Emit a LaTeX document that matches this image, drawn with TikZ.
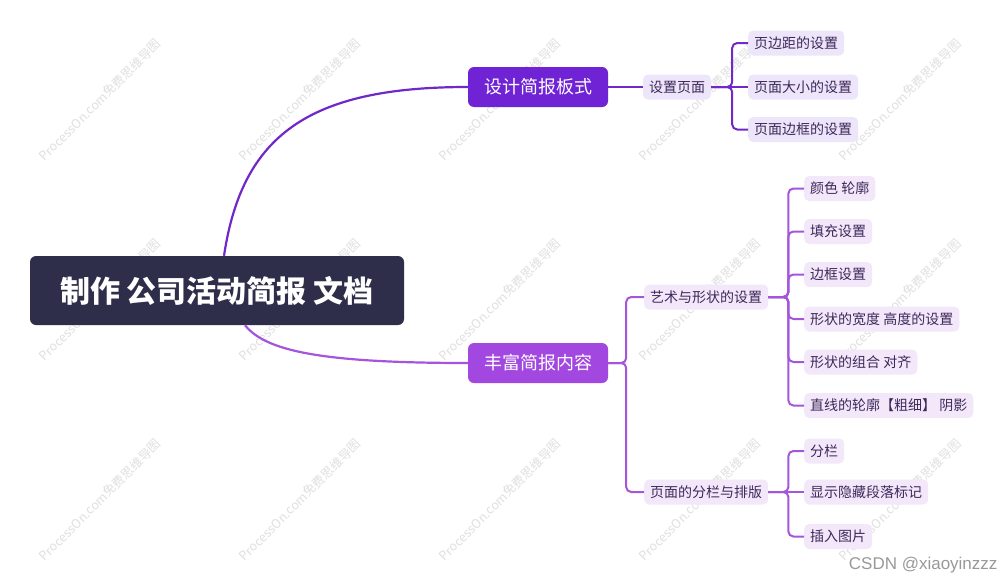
\documentclass[tikz,border=0pt]{standalone}
\usepackage{fontspec}
\setmainfont{Noto Sans CJK SC}
\newfontfamily\csdnfont{Liberation Sans}
\usetikzlibrary{positioning, calc}
\definecolor{rootdark}{RGB}{46, 45, 74}
\definecolor{designpurple}{RGB}{111, 35, 212}
\definecolor{enrichpurple}{RGB}{162, 72, 224}
\definecolor{linetop}{RGB}{112, 40, 200}
\definecolor{linebottom}{RGB}{165, 85, 220}
\definecolor{leaftop}{RGB}{237, 230, 250}
\definecolor{leafbottom}{RGB}{243, 232, 250}
\definecolor{leaftext}{RGB}{62, 40, 90}
\tikzstyle{rootbox} = [rectangle, rounded corners=6pt, fill=rootdark, text=white,
                       minimum width=374pt, minimum height=69pt, font=\fontsize{30}{34}\selectfont\bfseries]
\tikzstyle{mainbox} = [rectangle, rounded corners=6pt, text=white,
                       minimum width=140pt, minimum height=40pt, font=\fontsize{18}{20}\selectfont]
\tikzstyle{subbox} = [rectangle, rounded corners=5pt, text=leaftext, minimum height=25pt,
                      inner xsep=6pt, font=\fontsize{14}{16}\selectfont]
\tikzstyle{topline} = [line width=2pt, linetop, rounded corners=5pt]
\tikzstyle{bottomline} = [line width=2pt, linebottom, rounded corners=5pt]
\tikzstyle{watermark} = [rotate=45, text=black!12, font=\fontsize{12.5}{14}\selectfont]

\begin{document}
\begin{tikzpicture}[x=1pt, y=-1pt]

\fill[white] (0,0) rectangle (1004,581);
\useasboundingbox (0,0) rectangle (1004,581);

% Watermarks
\foreach \wx in {100,300,500,700,900}
  \foreach \wy in {100,300,500}
    \node[watermark] (wm-\wx-\wy) at (\wx,\wy) {ProcessOn.com免费思维导图};

% Root
\node[rootbox] (root) at (217, 290.5) {制作 公司活动简报 文档};

% Main topics
\node[mainbox, fill=designpurple] (design) at (538, 87) {设计简报板式};
\node[mainbox, fill=enrichpurple] (enrich) at (538, 363) {丰富简报内容};

% Design branch
\node[subbox, fill=leaftop] (pagesetup) at (677, 87) {设置页面};
\node[subbox, fill=leaftop, anchor=west] (margin) at (748, 43) {页边距的设置};
\node[subbox, fill=leaftop, anchor=west] (pagesize) at (748, 87) {页面大小的设置};
\node[subbox, fill=leaftop, anchor=west] (pageborder) at (748, 129.5) {页面边框的设置};

% Enrich branch
\node[subbox, fill=leafbottom, anchor=west] (artshape) at (644, 297) {艺术与形状的设置};
\node[subbox, fill=leafbottom, anchor=west] (columns) at (644, 492) {页面的分栏与排版};

\node[subbox, fill=leafbottom, anchor=west] (colorline) at (804, 188.5) {颜色 轮廓};
\node[subbox, fill=leafbottom, anchor=west] (fillset) at (804, 231.5) {填充设置};
\node[subbox, fill=leafbottom, anchor=west] (borderset) at (804, 274.5) {边框设置};
\node[subbox, fill=leafbottom, anchor=west] (shapesize) at (804, 319) {形状的宽度 高度的设置};
\node[subbox, fill=leafbottom, anchor=west] (shapegroup) at (804, 362) {形状的组合 对齐};
\node[subbox, fill=leafbottom, anchor=west] (lineshadow) at (804, 405.5) {直线的轮廓【粗细】 阴影};

\node[subbox, fill=leafbottom, anchor=west] (colsplit) at (804, 451) {分栏};
\node[subbox, fill=leafbottom, anchor=west] (showmarks) at (804, 492) {显示隐藏段落标记};
\node[subbox, fill=leafbottom, anchor=west] (insertpic) at (804, 536.5) {插入图片};

% Curves from root
\draw[line width=2.2pt, linetop] ([xshift=7pt]root.north) .. controls +(18,-120) and +(-160,0) .. (design.west);
\draw[line width=2.2pt, linebottom] ([xshift=28pt]root.south) .. controls +(20,25) and +(-150,0) .. (enrich.west);

% Design connectors
\draw[topline] (design) -- (pagesetup);
\draw[topline] (pagesetup) -- (pagesize);
\foreach \leaf in {margin, pageborder}
  \draw[topline] (pagesetup.east) -- ++(21,0) |- (\leaf.west);

% Enrich connectors
\foreach \leaf in {artshape, columns}
  \draw[bottomline] (enrich.east) -- ++(18,0) |- (\leaf.west);
\foreach \leaf in {colorline, fillset, borderset, shapesize, shapegroup, lineshadow}
  \draw[bottomline] (artshape.east) -- ++(20,0) |- (\leaf.west);
\draw[bottomline] (columns) -- (showmarks);
\foreach \leaf in {colsplit, insertpic}
  \draw[bottomline] (columns.east) -- ++(20,0) |- (\leaf.west);

% Credit
\node[font=\csdnfont\fontsize{17}{19}\selectfont, text=black!40, anchor=east] (csdn) at (1001, 565) {CSDN @xiaoyinzzz};

\end{tikzpicture}
\end{document}
